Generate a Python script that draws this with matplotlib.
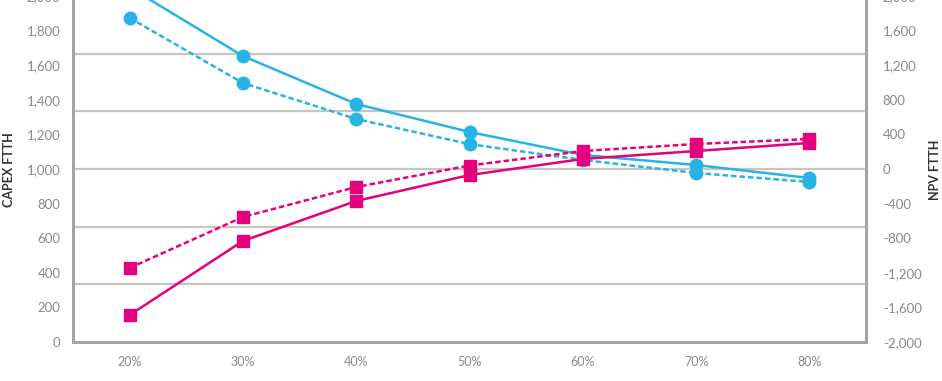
import matplotlib
matplotlib.use("Agg")
import matplotlib.pyplot as plt
import numpy as np

# take-up rate categories
takeup = ["20%", "30%", "40%", "50%", "60%", "70%", "80%"]

# CAPEX FTTH (left axis)
capex_solid = [2050, 1653, 1376, 1214, 1081, 1023, 948]
capex_dashed = [1873, 1497, 1289, 1144, 1052, 977, 925]

# NPV FTTH (right axis)
npv_solid = [-1688, -832, -370, -70, 116, 208, 301]
npv_dashed = [-1144, -555, -208, 40, 208, 289, 347]

left_ticks = list(range(0, 2001, 200))
right_ticks = list(range(-2000, 2001, 400))

blue = "#27b4e4"
pink = "#e5007d"
grey_txt = "#8a8a8a"
grey_line = "#c9c5c1"
grey_spine = "#a9a49f"

plt.rcParams["font.family"] = ["Lato", "DejaVu Sans"]

fig = plt.figure(figsize=(9.42, 3.81), dpi=100)
ax = fig.add_axes([73 / 942, 39 / 381, 793 / 942, 346 / 381])
ax2 = ax.twinx()

x = np.arange(len(takeup))

# horizontal guide lines, six bands
for v in np.linspace(0, 2000, 7)[1:-1]:
    ax.axhline(v, color=grey_line, lw=1.6, zorder=0)

ax.plot(x, capex_solid, color=blue, lw=1.8, marker="o", ms=9, zorder=3)
ax.plot(x, capex_dashed, color=blue, lw=1.8, ls=(0, (2.2, 1.2)), marker="o", ms=9, zorder=3)
ax2.plot(x, npv_solid, color=pink, lw=1.8, marker="s", ms=9, zorder=3)
ax2.plot(x, npv_dashed, color=pink, lw=1.8, ls=(0, (2.2, 1.2)), marker="s", ms=9, zorder=3)

ax.set_xlim(-0.5, len(takeup) - 0.5)
ax.set_ylim(0, 2000)
ax2.set_ylim(-2000, 2000)

ax.set_xticks(x)
ax.set_xticklabels(takeup)
ax.set_yticks(left_ticks)
ax.set_yticklabels([f"{v:,}" for v in left_ticks])
ax2.set_yticks(right_ticks)
ax2.set_yticklabels([f"{v:,}" for v in right_ticks])

ax.tick_params(axis="x", length=0, pad=10, labelsize=9, labelcolor=grey_txt)
ax.tick_params(axis="y", length=0, pad=9, labelsize=9.5, labelcolor=grey_txt)
ax2.tick_params(axis="y", length=0, pad=12, labelsize=9.5, labelcolor=grey_txt)

for a in (ax, ax2):
    a.spines["top"].set_visible(False)
    for s in ("left", "bottom", "right"):
        a.spines[s].set_color(grey_spine)
        a.spines[s].set_linewidth(2)

ax.set_ylabel("CAPEX FTTH", fontsize=9, fontweight="bold", color="#333333")
ax2.set_ylabel("NPV FTTH", fontsize=9, fontweight="bold", color="#333333", rotation=90)
ax.yaxis.set_label_coords(-0.073, 0.497)
ax2.yaxis.set_label_coords(1.079, 0.497)

fig.savefig("out.png", dpi=100)
